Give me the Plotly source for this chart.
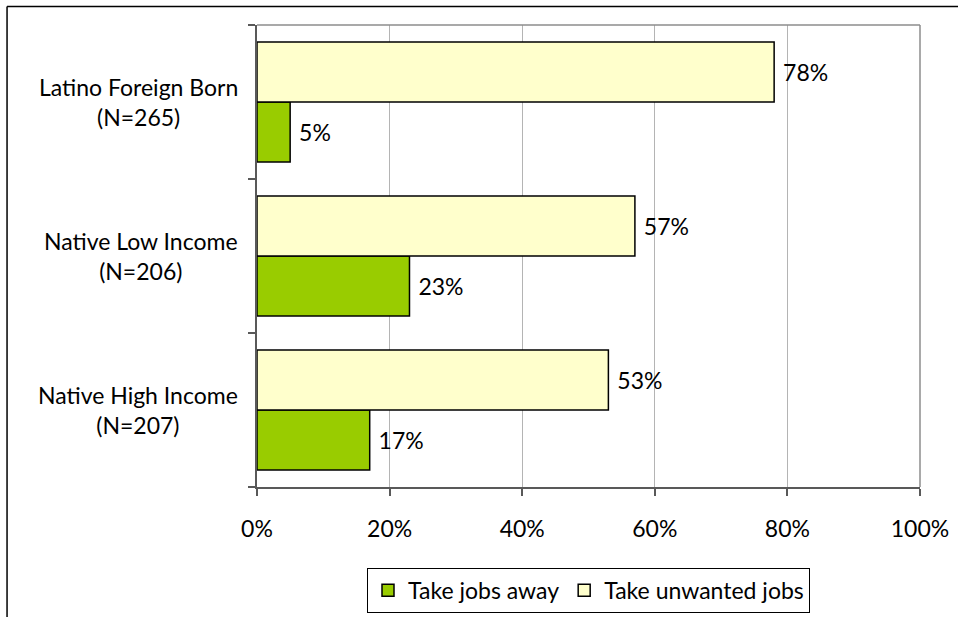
import plotly.graph_objects as go

# Survey groups, top to bottom
groups = ["Latino Foreign Born", "Native Low Income", "Native High Income"]
sample_sizes = ["(N=265)", "(N=206)", "(N=207)"]

# Share of respondents (%) holding each view
take_jobs_away = [5, 23, 17]
take_unwanted_jobs = [78, 57, 53]

x_ticks = [0, 20, 40, 60, 80, 100]
x_tick_labels = ["0%", "20%", "40%", "60%", "80%", "100%"]

FONT = "Lato"
FS = 23

fig = go.Figure()
fig.add_trace(go.Bar(
    y=groups, x=take_jobs_away, orientation="h", name="Take jobs away",
    marker=dict(color="#99CC00", line=dict(color="#000000", width=1.5)),
    text=[f" {v}%" for v in take_jobs_away], textposition="outside",
    textfont=dict(family=FONT, size=FS, color="#000000"), cliponaxis=False,
))
fig.add_trace(go.Bar(
    y=groups, x=take_unwanted_jobs, orientation="h", name="Take unwanted jobs",
    marker=dict(color="#FFFFCC", line=dict(color="#000000", width=1.5)),
    text=[f" {v}%" for v in take_unwanted_jobs], textposition="outside",
    textfont=dict(family=FONT, size=FS, color="#000000"), cliponaxis=False,
))

# Group labels, centred two-line text to the left of the axis
for g, n in zip(groups, sample_sizes):
    fig.add_annotation(
        x=-0.026, xref="paper", y=g, yref="y", xanchor="right", yanchor="middle",
        text=f"{g}<br>{n}", align="center", showarrow=False,
        font=dict(family=FONT, size=FS, color="#000000"),
    )

# Outer frame and plot-area border
fig.add_shape(type="line", xref="paper", yref="paper", x0=-0.377, x1=1.2, y0=1.04, y1=1.04,
              line=dict(color="#000000", width=1.5))
fig.add_shape(type="line", xref="paper", yref="paper", x0=-0.377, x1=-0.377, y0=1.04, y1=-0.4,
              line=dict(color="#000000", width=1.5))
fig.add_shape(type="line", xref="paper", yref="paper", x0=0, x1=1, y0=1, y1=1,
              line=dict(color="#8c8c8c", width=1.5))
fig.add_shape(type="line", xref="paper", yref="paper", x0=1, x1=1, y0=0, y1=1,
              line=dict(color="#8c8c8c", width=1.5))

fig.update_layout(
    width=958, height=617,
    margin=dict(l=257, r=38, t=25, b=130, autoexpand=False),
    paper_bgcolor="#ffffff", plot_bgcolor="#ffffff",
    barmode="group", bargap=0.22, bargroupgap=0,
    font=dict(family=FONT, size=FS, color="#000000"),
    showlegend=True,
    legend=dict(
        orientation="h", x=0.5, xanchor="center", y=-0.175, yanchor="top",
        bordercolor="#000000", borderwidth=1, bgcolor="#ffffff",
        font=dict(family=FONT, size=FS, color="#000000"),
        itemclick=False, itemdoubleclick=False, traceorder="normal",
    ),
    xaxis=dict(
        range=[0, 100], tickvals=x_ticks, ticktext=x_tick_labels,
        showgrid=True, gridcolor="#b4b4b4", gridwidth=1,
        showline=True, linecolor="#595959", linewidth=1.5,
        ticks="outside", ticklen=7, tickcolor="#595959", tickwidth=1.5,
        ticklabelstandoff=14, zeroline=False, fixedrange=True,
        automargin=False,
    ),
    yaxis=dict(
        categoryorder="array", categoryarray=groups[::-1],
        showticklabels=False, tickson="boundaries",
        ticks="outside", ticklen=7, tickcolor="#595959", tickwidth=1.5,
        showline=True, linecolor="#595959", linewidth=1.5,
        showgrid=False, zeroline=False, fixedrange=True,
        automargin=False,
    ),
)

fig.write_html("out.html")
